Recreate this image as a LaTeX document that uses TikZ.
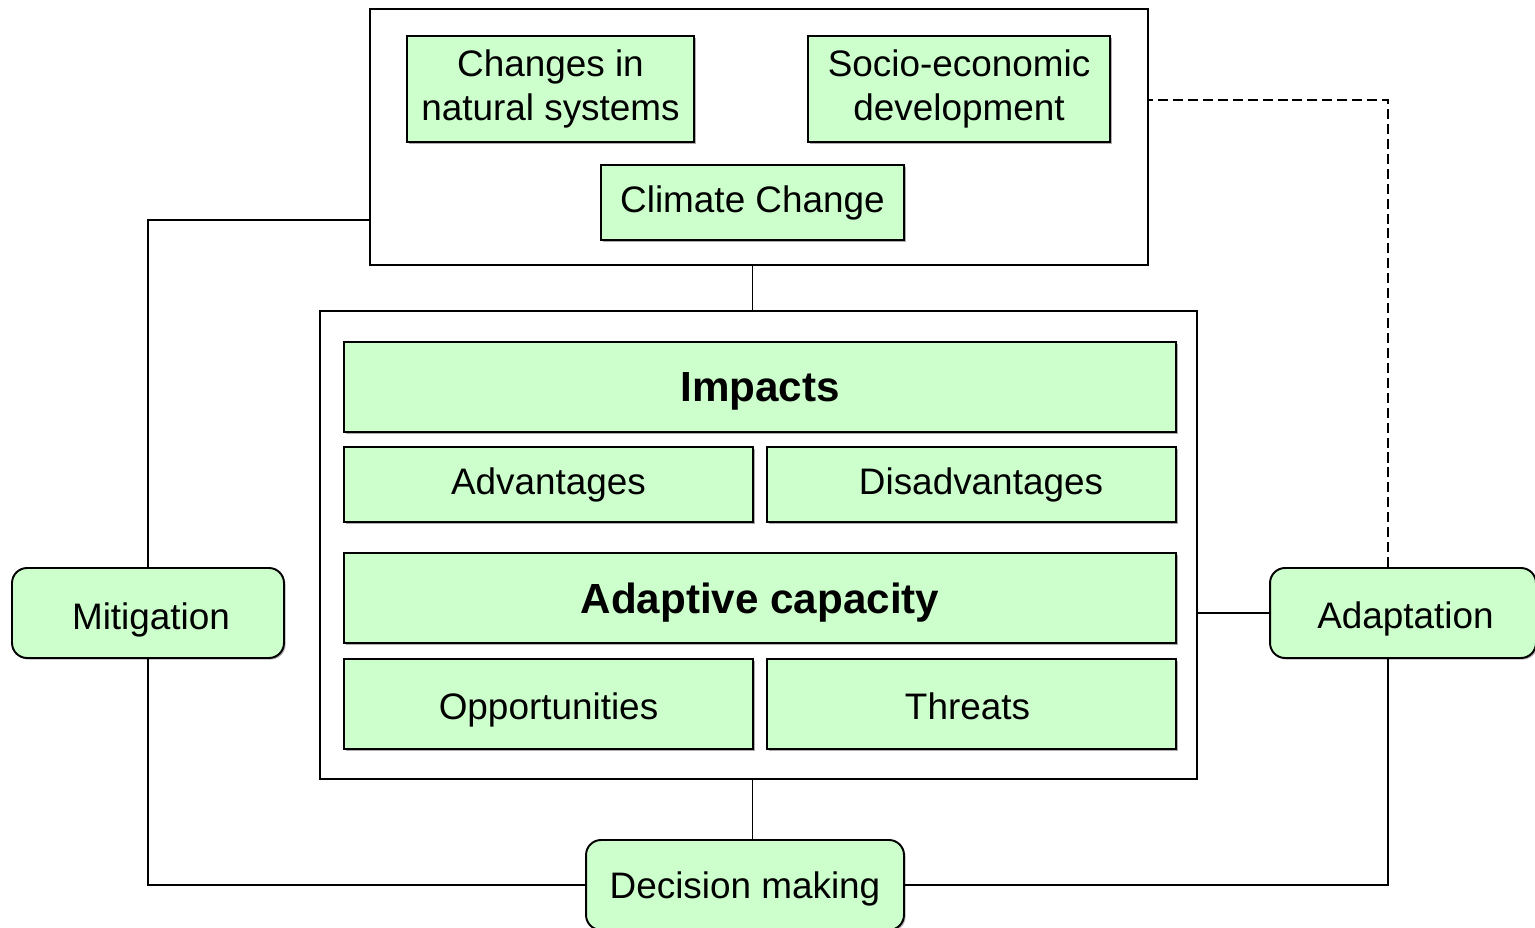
\documentclass[tikz,border=0pt]{standalone}
\usepackage{fontspec}
\setmainfont{Liberation Sans}
\usetikzlibrary{shadows}
\definecolor{boxgreen}{HTML}{CCFFCC}
\begin{document}
\begin{tikzpicture}[x = 0.02cm, y = -0.02cm,
        every node/.style = {font = \fontsize{21}{25}\selectfont, align = center, inner sep = 0pt},
        frame/.style = {draw, line width = 1.1pt},
        greenbox/.style = {draw, fill = boxgreen, line width = 1.1pt,
            drop shadow = {shadow xshift = 0.9pt, shadow yshift = -0.9pt, fill = black!40, opacity = 0.8}},
        roundbox/.style = {greenbox, rounded corners = 0.3cm},
        boldtext/.style = {font = \fontsize{24}{28}\selectfont\bfseries},
        base/.style = {text height = #1, text depth = 0pt},
        link/.style = {line width = 1.1pt}]
        \useasboundingbox (0, 0) rectangle (1535, 928);
        % upper frame
        \node[frame, minimum width = 15.56cm, minimum height = 5.12cm] (topframe) at (759, 137) {};
        \node[greenbox, minimum width = 5.74cm, minimum height = 2.12cm] (natural) at (550.5, 89) {Changes in\\natural systems};
        \node[greenbox, minimum width = 6.04cm, minimum height = 2.12cm] (socio) at (959, 89) {Socio-economic\\development};
        \node[greenbox, base = 11pt, minimum width = 6.06cm, minimum height = 1.5cm] (climate) at (752.5, 202.5) {Climate Change};
        % middle frame
        \node[frame, minimum width = 17.54cm, minimum height = 9.36cm] (midframe) at (758.5, 545) {};
        \node[greenbox, boldtext, base = 16pt, minimum width = 16.64cm, minimum height = 1.8cm] (impacts) at (760, 387) {Impacts};
        \node[greenbox, base = 11pt, minimum width = 8.18cm, minimum height = 1.5cm] (advantages) at (548.5, 484.5) {Advantages};
        \node[greenbox, base = 11pt, minimum width = 8.18cm, minimum height = 1.5cm] (disadvantages) at (971.5, 484.5) {\hspace*{0.38cm}Disadvantages};
        \node[greenbox, boldtext, base = 18pt, minimum width = 16.64cm, minimum height = 1.8cm] (capacity) at (760, 598) {Adaptive capacity};
        \node[greenbox, base = 18pt, minimum width = 8.18cm, minimum height = 1.8cm] (opportunities) at (548.5, 704) {Opportunities};
        \node[greenbox, base = 18pt, minimum width = 8.18cm, minimum height = 1.8cm] (threats) at (971.5, 704) {Threats\hspace*{0.16cm}};
        % responses
        \node[roundbox, base = 19pt, minimum width = 5.44cm, minimum height = 1.8cm] (mitigation) at (148, 613) {\hspace*{0.12cm}Mitigation};
        \node[roundbox, base = 18pt, minimum width = 5.32cm, minimum height = 1.8cm] (adaptation) at (1403, 613) {\hspace*{0.1cm}Adaptation};
        \node[roundbox, base = 15pt, minimum width = 6.36cm, minimum height = 1.8cm] (decision) at (745, 885) {Decision making};
        \coordinate (leftrail) at (148, 220);
        \coordinate (rightrail) at (1388, 100);
        % connectors
        \draw[link] (topframe.south -| climate) -- (midframe.north -| climate);
        \draw[link] (midframe.south -| climate) -- (decision.north -| climate);
        \draw[link] (leftrail -| topframe.west) -- (leftrail) -- (mitigation.north);
        \draw[link] (mitigation.south) |- (decision.west);
        \draw[link] (decision.east) -| (adaptation.south -| rightrail);
        \draw[link] (midframe.east |- adaptation) -- (adaptation.west);
        \draw[link, dash pattern = on 5.7pt off 2.8pt] (adaptation.north -| rightrail) -- (rightrail) -- (rightrail -| topframe.east);
\end{tikzpicture}
\end{document}
